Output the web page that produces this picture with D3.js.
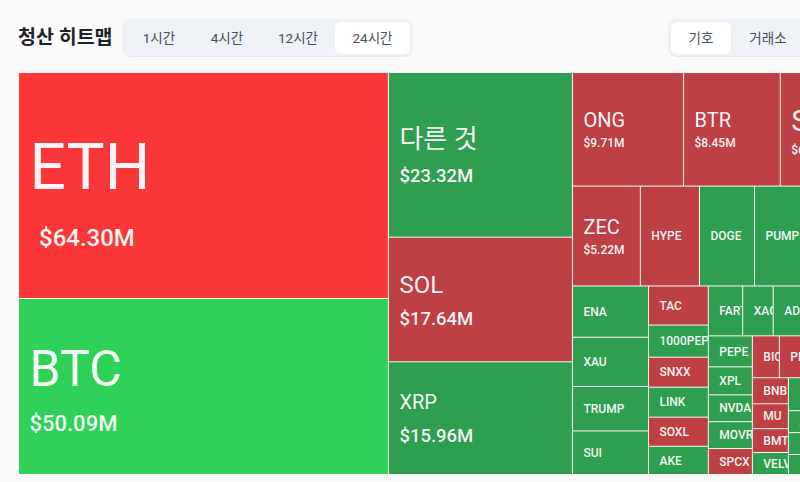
<!DOCTYPE html>
<html>
<head>
<meta charset="utf-8">
<title>청산 히트맵</title>
<script src="https://d3js.org/d3.v7.min.js"></script>
<style>
html, body { margin: 0; padding: 0; background: #fafafa; overflow: hidden; }
text { font-family: Roboto, "Noto Sans CJK KR", sans-serif; }
</style>
</head>
<body>
<script>
// time and grouping tabs
var timeTabs = ["1시간", "4시간", "12시간", "24시간"];
var groupTabs = ["기호", "거래소"];

// liquidation per symbol ($M), one small list per block of the map.
// items are [name, value, side]. the last few run off the right edge of the picture
var majors = [["ETH", 64.30, "short"], ["BTC", 50.09, "long"]];
var seconds = [["다른 것", 23.32, "long"], ["SOL", 17.64, "short"], ["XRP", 15.96, "long"]];
var rowOne = [["ONG", 9.71, "short"], ["BTR", 8.45, "short"], ["S", 6.05, "short"]];
var rowTwo = [["ZEC", 5.22, "short"], ["HYPE", 4.54, "short"], ["DOGE", 4.23, "long"], ["PUMP", 4.15, "long"], ["WLD", 3.15, "long"]];
var colOne = [["ENA", 3.00, "long"], ["XAU", 2.88, "long"], ["TRUMP", 2.60, "long"], ["SUI", 2.55, "long"]];
var colTwo = [["TAC", 1.80, "short"], ["1000PEPE", 1.48, "long"], ["SNXX", 1.38, "short"], ["LINK", 1.38, "long"], ["SOXL", 1.34, "short"], ["AKE", 1.30, "long"]];
var topStrip = [["FARTCOIN", 1.32, "long"], ["XAG", 1.17, "long"], ["ADA", 1.17, "long"], ["AVAX", 1.76, "long"]];
var colThree = [["PEPE", 1.05, "long"], ["XPL", 0.95, "long"], ["NVDA", 0.91, "long"], ["MOVR", 0.91, "long"], ["SPCX", 0.88, "short"]];
var bioStrip = [["BIO", 0.87, "short"], ["PENGU", 0.87, "short"], ["TAO", 1.39, "long"]];
var colFour = [["BNB", 0.72, "short"], ["MU", 0.69, "short"], ["BMT", 0.66, "short"], ["VELVET", 0.61, "long"]];
var colFive = [["CRV", 1.55, "long"], ["AAVE", 1.03, "long"], ["LTC", 1.03, "long"], ["HBAR", 0.94, "long"]];

var width = 800, height = 482;
var svg = d3.select("body").append("svg").attr("width", width).attr("height", height);

// header
svg.append("text").attr("x", 18).attr("y", 43.5).attr("font-size", 19.5).attr("font-weight", 700)
    .attr("fill", "#1e2329").text("청산 히트맵");

function tabGroup(x, labels, widths, active) {
    var total = d3.sum(widths) + 6;
    var g = svg.append("g").attr("transform", "translate(" + x + ",19)");
    g.append("rect").attr("width", total).attr("height", 38).attr("rx", 9).attr("fill", "#e6e8ec");
    g.append("rect").attr("width", total).attr("height", 37).attr("rx", 9).attr("fill", "#eef1f5");
    var pos = 3;
    labels.forEach(function (d, i) {
        if (i == active) {
            g.append("rect").attr("x", pos).attr("y", 3).attr("width", widths[i]).attr("height", 32)
                .attr("rx", 6).attr("fill", "#fff");
        }
        g.append("text").attr("x", pos + widths[i] / 2).attr("y", 24).attr("text-anchor", "middle")
            .attr("font-size", 13.5).attr("fill", "#474d57").text(d);
        pos += widths[i];
    });
}
tabGroup(122, timeTabs, [68, 68, 74, 75], 3);
tabGroup(668, groupTabs, [60, 74], 0);

// nested blocks, slice and dice swaps direction on every level
function leaves(list) {
    return list.map(function (d) { return { name: d[0], value: d[1], side: d[2] }; });
}
function group() {
    return { children: Array.prototype.slice.call(arguments) };
}
function block(list) {
    return { children: leaves(list) };
}
var tree = group(
    block(majors),
    block(seconds),
    group(
        block(rowOne),
        block(rowTwo),
        group(
            block(colOne),
            block(colTwo),
            group(
                block(topStrip),
                group(
                    block(colThree),
                    group(
                        block(bioStrip),
                        group(block(colFour), block(colFive))
                    )
                )
            )
        )
    )
);
var root = d3.hierarchy(tree).sum(function (d) { return d.value || 0; });
d3.treemap().tile(d3.treemapSliceDice).size([830, 401]).paddingInner(1)(root);

var color = function (d) {
    if (d.value > 50) return d.data.side == "short" ? "#fb3639" : "#2fd158";
    return d.data.side == "short" ? "#bd4045" : "#2f9e50";
};
var nameSize = function (d) {
    if (d.data.name.length == 1) return 30;
    return d3.scaleThreshold().domain([1.6, 5, 16, 20, 30, 55]).range([12, 12, 20, 24, 26, 50, 64])(d.value);
};
var valueSize = d3.scaleThreshold().domain([5, 15, 30, 55]).range([12, 12, 18.5, 22, 24]);
var gapSize = d3.scaleThreshold().domain([10, 16, 20, 55]).range([2, 8, 6, 8, 14]);
var hasValue = function (d) { return d.value >= 5; };
var money = function (v) { return "$" + d3.format(".2f")(v) + "M"; };
// top of the name + value block, centred in its cell
var blockTop = function (d) {
    var n = nameSize(d) * 1.3;
    var h = hasValue(d) ? n + gapSize(d.value) + valueSize(d.value) * 1.3 : n;
    return (d.y1 - d.y0 - h) / 2 + (d.value > 55 ? 3.5 : 0);
};

var map = svg.append("g").attr("transform", "translate(19,73)");
var cell = map.selectAll("g").data(root.leaves()).enter().append("g")
    .attr("transform", function (d) { return "translate(" + d.x0 + "," + d.y0 + ")"; });
cell.append("rect")
    .attr("width", function (d) { return d.x1 - d.x0; })
    .attr("height", function (d) { return d.y1 - d.y0; })
    .attr("fill", color);
cell.append("clipPath").attr("id", function (d, i) { return "c" + i; }).append("rect")
    .attr("width", function (d) { return d.x1 - d.x0; })
    .attr("height", function (d) { return d.y1 - d.y0; });
var labels = cell.append("g").attr("clip-path", function (d, i) { return "url(#c" + i + ")"; });
labels.append("text")
    .attr("x", 10.5)
    .attr("y", function (d) { return blockTop(d) + nameSize(d) * 0.65; })
    .attr("dy", "0.35em")
    .attr("font-size", nameSize)
    .attr("font-weight", function (d) { return d.value < 5 ? 500 : 400; })
    .attr("fill", "#fff").attr("fill-opacity", 0.95)
    .text(function (d) { return d.data.name; });
labels.filter(hasValue).append("text")
    .attr("x", function (d) { return d.value > 55 ? 20 : 10.5; })
    .attr("y", function (d) {
        return blockTop(d) + nameSize(d) * 1.3 + gapSize(d.value) + valueSize(d.value) * 0.65;
    })
    .attr("dy", "0.35em")
    .attr("font-size", function (d) { return valueSize(d.value); })
    .attr("font-weight", 500)
    .attr("fill", "#fff").attr("fill-opacity", 0.95)
    .text(function (d) { return money(d.value); });
</script>
</body>
</html>
